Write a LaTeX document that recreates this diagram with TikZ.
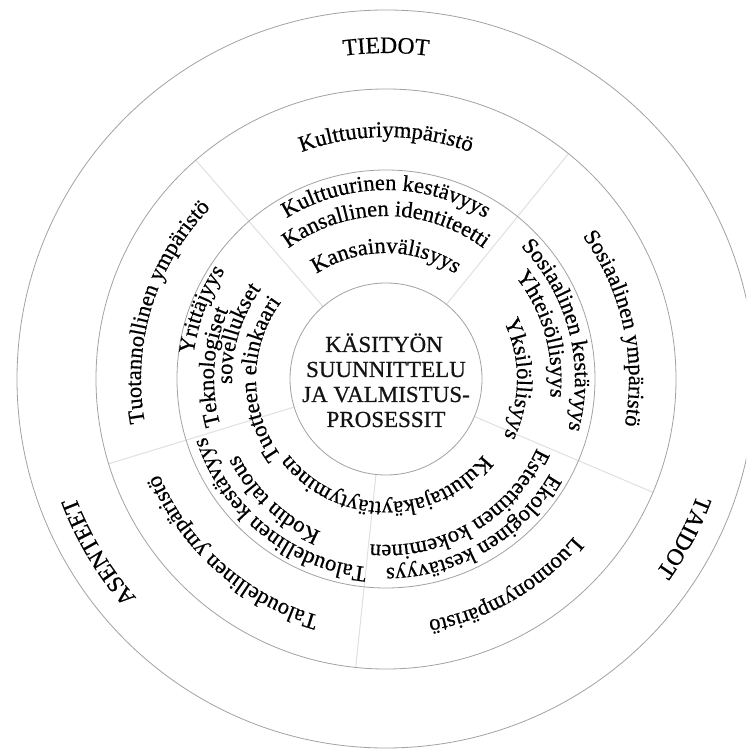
\documentclass[tikz,border=0pt]{standalone}
\usepackage{fontspec}
\setmainfont{Liberation Serif}[RawFeature={embolden=0.6}]
\usetikzlibrary{decorations.text}
\newcommand\ringfont{\fontsize{22.5pt}{27pt}\selectfont}
\newcommand\outerfont{\fontsize{23.5pt}{28pt}\selectfont}
\newcommand\ringlabel[5][\ringfont]{%
  \path[decorate,decoration={text along path,text={|#1|#5},text align=center}]
    ({#2+#4}:#3pt) arc[start angle={#2+#4}, end angle={#2-#4}, radius=#3pt];}
\definecolor{ringgray}{HTML}{A2A2A2}
\definecolor{divgray}{HTML}{E0E0E0}
\definecolor{inkblack}{HTML}{141414}
\tikzset{
  ringline/.style={draw=ringgray, line width=0.8pt},
  divider/.style={draw=divgray, line width=1pt},
  centertext/.style={font=\fontsize{23pt}{25pt}\selectfont, anchor=base, inner sep=0pt, text=inkblack}
}
\begin{document}
\begin{tikzpicture}
\clip (-386pt,-372pt) rectangle (360pt,379pt);
\fill[white] (-386pt,-372pt) rectangle (360pt,379pt);
\coordinate (O) at (0,0);
% dividers
\foreach \a in {51,131,197,264,337}
  \draw[divider] (\a:96pt) -- (\a:290pt);
% circles
\draw[ringline] (O) circle[radius=96pt];
\draw[ringline] (O) circle[radius=209pt];
\draw[ringline] (O) circle[radius=290pt];
\draw[ringline] (O) circle[radius=369pt];
% centre
\node[centertext] (c1) at (-2pt,27pt) {KÄSITYÖN};
\node[centertext] (c2) at (0pt,2pt) {SUUNNITTELU};
\node[centertext] (c3) at (0pt,-23pt) {JA VALMISTUS-};
\node[centertext] (c4) at (0pt,-48pt) {PROSESSIT};
% outer ring
\color{inkblack}
\ringlabel[\outerfont]{90}{326}{30}{TIEDOT}
\ringlabel[\outerfont]{-28}{332}{30}{TAIDOT}
\ringlabel[\outerfont]{211}{332}{30}{ASENTEET}
% environments ring
\ringlabel{90}{242}{40}{Kulttuuriympäristö}
\ringlabel{12.5}{243}{40}{Sosiaalinen ympäristö}
\ringlabel{-60}{245}{40}{Luonnonympäristö}
\ringlabel{228.5}{246}{40}{Taloudellinen ympäristö}
\ringlabel{163}{245}{40}{Tuotannollinen ympäristö}
% inner ring
\ringlabel{90}{189}{50}{Kulttuurinen kestävyys}
\ringlabel{90}{163}{55}{Kansallinen identiteetti}
\ringlabel{90}{126}{60}{Kansainvälisyys}
\ringlabel{14.5}{189}{50}{Sosiaalinen kestävyys}
\ringlabel{16}{165}{55}{Yhteisöllisyys}
\ringlabel{0}{131}{60}{Yksilöllisyys}
\ringlabel{-60}{189}{50}{Ekologinen kestävyys}
\ringlabel{-60}{166}{55}{Esteettinen kokeminen}
\ringlabel{-90}{123}{70}{Kuluttajakäyttäytyminen}
\ringlabel{231}{189}{50}{Taloudellinen kestävyys}
\ringlabel{227}{166}{55}{Kodin talous}
\ringlabel{159.4}{194}{50}{Yrittäjyys}
\ringlabel{176}{172}{50}{Teknologiset}
\ringlabel{163}{154}{55}{sovellukset}
\ringlabel{180}{130}{65}{Tuotteen elinkaari}
\end{tikzpicture}
\end{document}
